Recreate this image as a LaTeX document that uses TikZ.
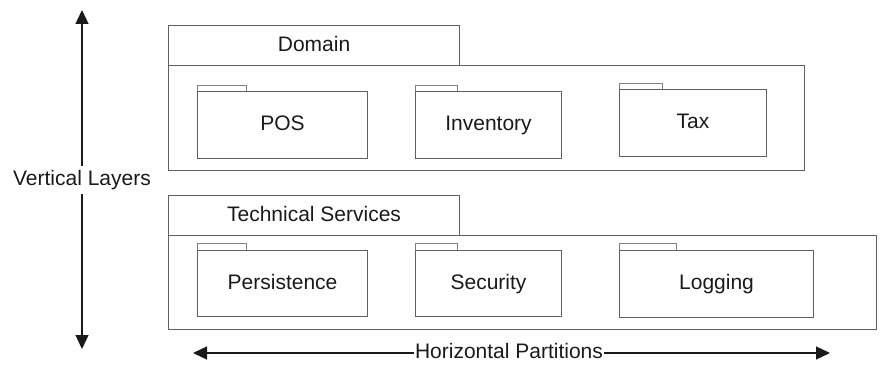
\documentclass[tikz,border=0pt]{standalone}
\usepackage{fontspec}
\setmainfont{Liberation Sans}
\usetikzlibrary{arrows.meta}
\definecolor{linegray}{HTML}{606060}
\definecolor{inkgray}{HTML}{1A1A1A}
\begin{document}
\begin{tikzpicture}[x=1pt,y=-1pt,
  every node/.style={font=\fontsize{21}{24}\selectfont, text=inkgray,
                     text height=15pt, text depth=4pt},
  box/.style={draw=linegray, line width=1.1pt, anchor=north west, inner sep=0pt,
              minimum width=#1},
  tab/.style={draw=linegray!80, line width=1pt, anchor=north west, inner sep=0pt,
              minimum width=#1, text height=0pt, text depth=0pt},
  arr/.style={draw=inkgray, line width=1.3pt, -{Triangle[length=14pt,width=13pt]}}]
\useasboundingbox (0,0) rectangle (891,379);

% Domain layer
\node[box=291, minimum height=40] (domtab) at (168,25) {Domain};
\node[box=636, minimum height=105] (dom) at (168,65) {};
\node[tab=49, minimum height=6] (postab) at (197,85) {};
\node[box=170, minimum height=67] (pos) at (197,91) {POS};
\node[tab=42, minimum height=6] (invtab) at (415,85) {};
\node[box=146, minimum height=67] (inv) at (415,91) {Inventory};
\node[tab=43, minimum height=6] (taxtab) at (619,83) {};
\node[box=147, minimum height=67] (tax) at (619,89) {Tax};

% Technical services layer
\node[box=291, minimum height=40] (techtab) at (168,195) {Technical Services};
\node[box=708, minimum height=94] (tech) at (168,235) {};
\node[tab=49, minimum height=7] (pertab) at (197,243) {};
\node[box=170, minimum height=66] (per) at (197,250) {Persistence};
\node[tab=42, minimum height=7] (sectab) at (415,243) {};
\node[box=146, minimum height=66] (sec) at (415,250) {Security};
\node[tab=57, minimum height=7] (logtab) at (619,243) {};
\node[box=194, minimum height=67] (log) at (619,250) {Logging};

% Axis labels and arrows
\node[inner xsep=2pt, inner ysep=4pt] (vl) at (82,180) {Vertical Layers};
\coordinate (vtop) at (82,10);
\coordinate (vbot) at (82,349);
\draw[arr] (vl.north) -- (vtop);
\draw[arr] (vl.south) -- (vbot);

\node[inner xsep=1pt, inner ysep=2pt] (hp) at (509,353) {Horizontal Partitions};
\coordinate (hleft) at (193,353);
\coordinate (hright) at (830,353);
\draw[arr] (hp.west) -- (hleft);
\draw[arr] (hp.east) -- (hright);
\end{tikzpicture}
\end{document}
